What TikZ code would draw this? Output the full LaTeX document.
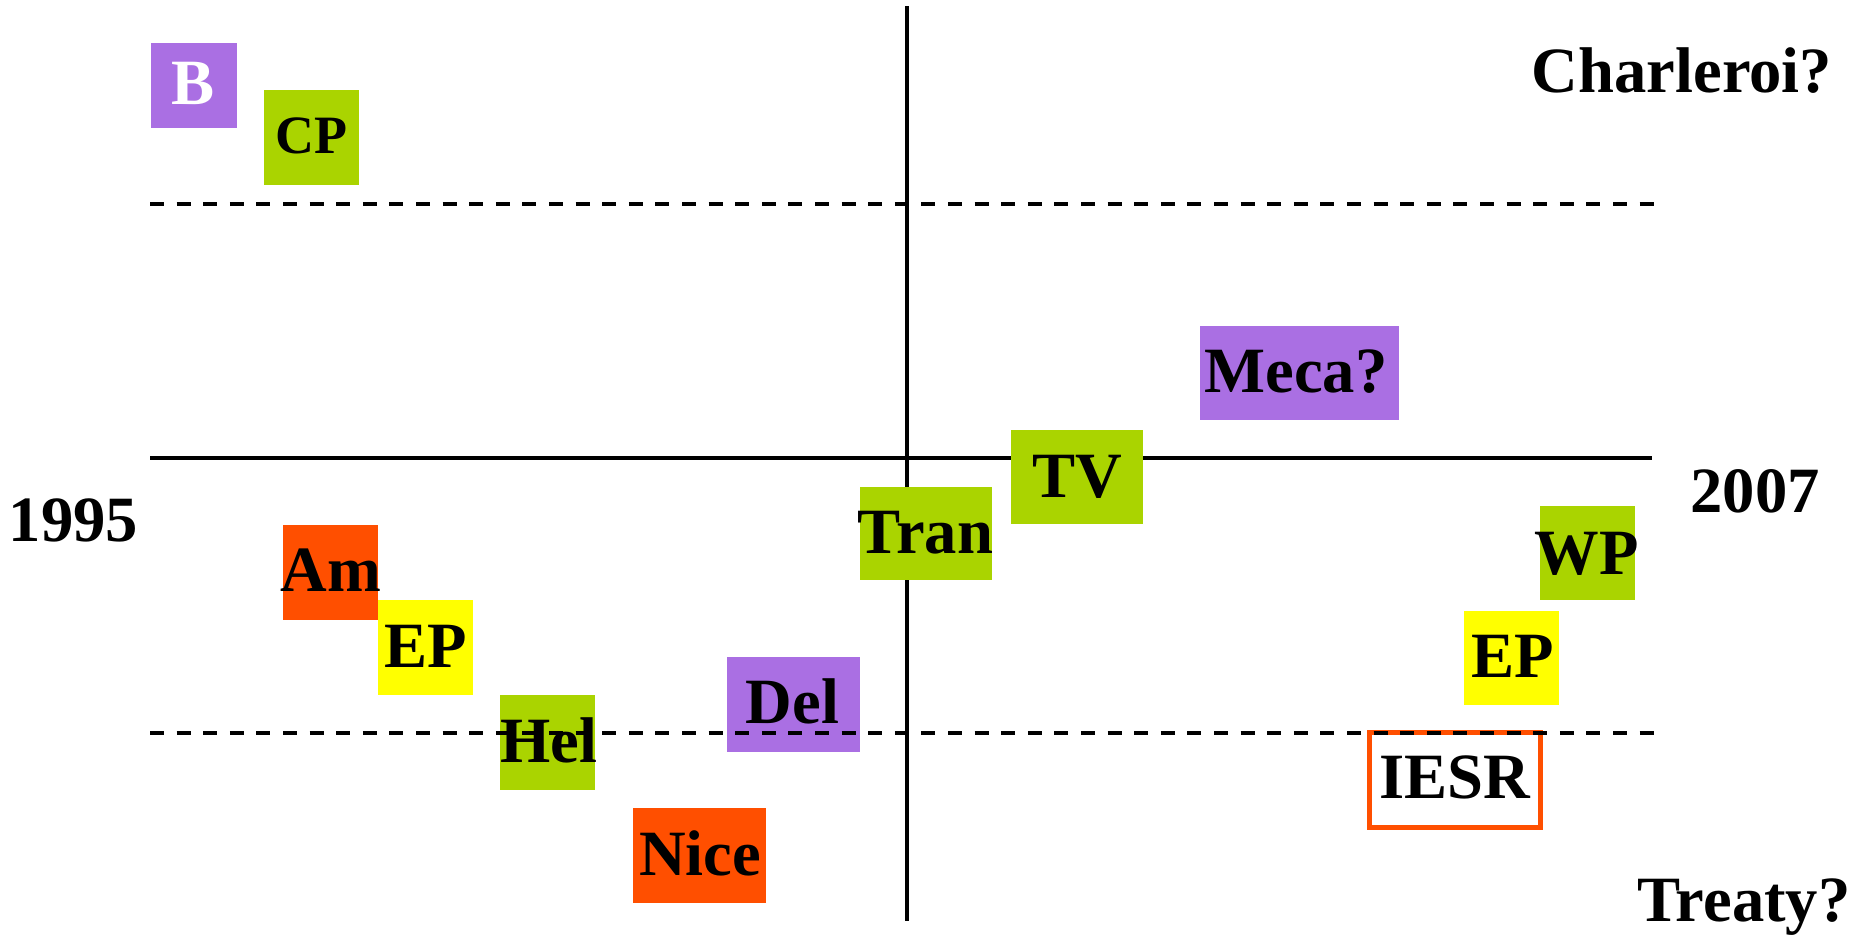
\documentclass[tikz,border=0pt]{standalone}
\usepackage{fontspec}
\setmainfont{Liberation Serif}
\usetikzlibrary{positioning}
\definecolor{lilac}{HTML}{AA6FE3}
\definecolor{leaf}{HTML}{AAD400}
\definecolor{flame}{HTML}{FF4F00}
\definecolor{lemon}{HTML}{FFFF00}
\tikzset{lbl/.style={anchor=base,inner sep=0pt,font=\fontsize{32.3}{32}\selectfont\bfseries},
	small/.style={font=\fontsize{27}{27}\selectfont\bfseries}}

\begin{document}
\begin{tikzpicture}[x=0.5pt,y=-0.5pt]
	\useasboundingbox (0,0) rectangle (1856,937);
	\draw[line width=2.4pt] (907,6)--(907,921);
	\draw[line width=2pt] (150,458)--(1652,458);
	\fill[lilac] (151,43) rectangle (237,128);
	\fill[leaf] (264,90) rectangle (359,185);
	\fill[lilac] (1200,326) rectangle (1399,420);
	\fill[leaf] (1011,430) rectangle (1143,524);
	\fill[leaf] (860,487) rectangle (992,580);
	\fill[leaf] (1540,506) rectangle (1635,600);
	\fill[lemon] (1464,611) rectangle (1559,705);
	\fill[flame] (283,525) rectangle (378,620);
	\fill[lemon] (378,600) rectangle (473,695);
	\fill[leaf] (500,695) rectangle (595,790);
	\fill[lilac] (727,657) rectangle (860,752);
	\fill[flame] (633,808) rectangle (766,903);
	\draw[flame,line width=2.5pt] (1369.5,732.5) rectangle (1540.5,827.5);
	\draw[line width=1.8pt,dash pattern=on 7pt off 6.3pt] (150,204)--(1663,204);
	\draw[line width=1.8pt,dash pattern=on 7pt off 6.3pt] (150,733)--(1663,733);
	\node (b) at (193,104)[lbl,text=white] {B};
	\node (cp) at (311.5,153)[lbl,small] {CP};
	\node (charleroi) at (1682,92)[lbl] {Charleroi?};
	\node (meca) at (1296,392)[lbl] {Meca?};
	\node (tv) at (1077,497)[lbl] {TV};
	\node (tran) at (925.5,553)[lbl] {Tran};
	\node (y95) at (73.5,541)[lbl] {1995};
	\node (y07) at (1755,512)[lbl] {2007};
	\node (wp) at (1587,574)[lbl] {WP};
	\node (am) at (331,591)[lbl] {Am};
	\node (epl) at (425.5,667)[lbl] {EP};
	\node (epr) at (1512.5,677)[lbl] {EP};
	\node (del) at (792.5,723)[lbl] {Del};
	\node (hel) at (548.5,762)[lbl] {Hel};
	\node (iesr) at (1455,798)[lbl] {IESR};
	\node (nice) at (700,875)[lbl] {Nice};
	\node (treaty) at (1744,921)[lbl] {Treaty?};
	\end{tikzpicture}
\end{document}
